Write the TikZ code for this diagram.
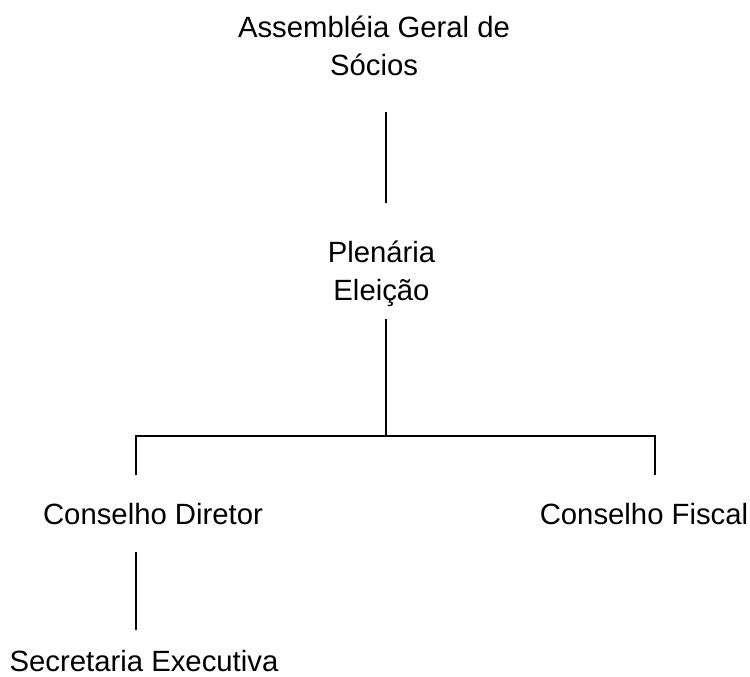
\documentclass[tikz,border=0pt]{standalone}
\usepackage{fontspec}
\setmainfont{Liberation Sans}
\usepackage{tikz}

\begin{document}
\begin{tikzpicture}[x=1pt,y=-1pt]
\tikzset{unit/.style={inner sep=0pt,anchor=base,align=center,font=\fontsize{29.3}{38}\selectfont}}
\useasboundingbox (0,0) rectangle (750,677);
\node[unit] (assembleia) at (374,76) {Assembléia Geral de\\Sócios};
\node[unit] (plenaria) at (381.5,300) {Plenária\\Eleição};
\node[unit] (diretor) at (153,524) {Conselho Diretor};
\node[unit] (fiscal) at (644,524) {Conselho Fiscal};
\node[unit] (secretaria) at (144,671) {Secretaria Executiva};
\coordinate (a1) at (385.5,112);
\coordinate (a2) at (385.5,203);
\coordinate (p1) at (385.5,319);
\coordinate (p2) at (385.5,436);
\coordinate (d1) at (136,436);
\coordinate (d2) at (136,475);
\coordinate (f1) at (655,436);
\coordinate (f2) at (655,475);
\coordinate (s1) at (136,552);
\coordinate (s2) at (136,630);
\draw[line width=2pt] (a1) -- (a2);
\draw[line width=2pt] (p1) -- (p2);
\draw[line width=2pt] (d2) -- (d1) -- (f1) -- (f2);
\draw[line width=2pt] (s1) -- (s2);
\end{tikzpicture}
\end{document}
